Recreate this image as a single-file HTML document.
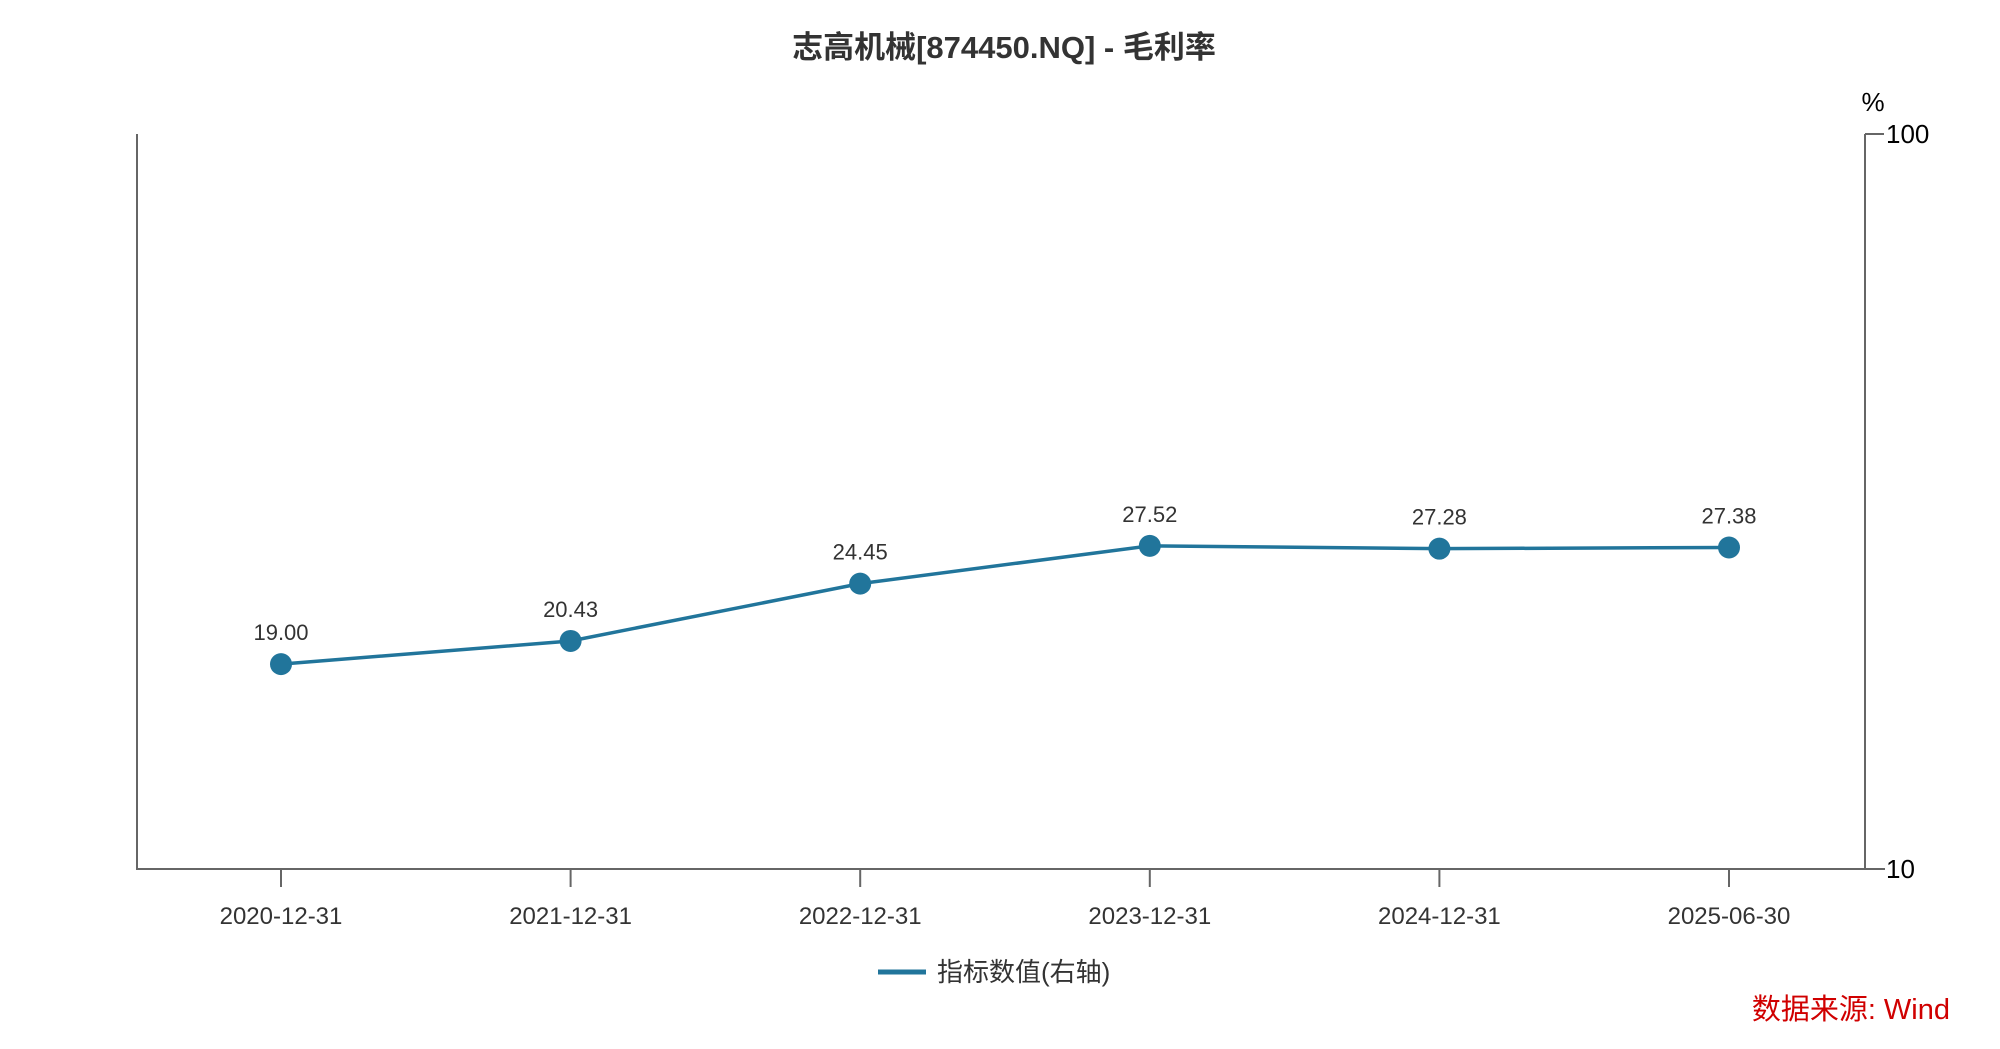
<!DOCTYPE html>
<html><head><meta charset="utf-8"><style>
body{margin:0;background:#fff;}
svg text{font-family:"Liberation Sans","Noto Sans CJK SC",sans-serif;}
</style></head><body>
<svg width="2000" height="1044">
<text x="1004" y="58" text-anchor="middle" font-size="31" font-weight="bold" fill="#333">志高机械[874450.NQ] - 毛利率</text>
<text x="1873" y="111" text-anchor="middle" font-size="26" fill="#000">%</text>
<g id="axes" stroke="#666" stroke-width="2" fill="none">
<line x1="137" y1="134" x2="137" y2="870"/>
<line x1="136" y1="869" x2="1885" y2="869"/>
<line x1="1865" y1="134" x2="1865" y2="870"/>
</g>
<g id="ticks"></g>
<g id="series"></g>
<g>
<line x1="878" y1="972" x2="926" y2="972" stroke="#21759b" stroke-width="5"/>
<text x="937" y="981" font-size="26" fill="#333">指标数值(右轴)</text>
</g>
<text x="1950" y="1019" text-anchor="end" font-size="29" fill="#d00000">数据来源: Wind</text>
</svg>
<script>
const categories=["2020-12-31","2021-12-31","2022-12-31","2023-12-31","2024-12-31","2025-06-30"];
const values=[19.00,20.43,24.45,27.52,27.28,27.38];
const yTicks=[10,100];
const NS="http://www.w3.org/2000/svg";
const x0=281,dx=289.6,yBot=869,yTop=134;
function xs(i){return x0+i*dx;}
function ys(v){return yBot-(Math.log10(v)-1)*(yBot-yTop);}
function mk(t,a,p){const e=document.createElementNS(NS,t);for(const k in a)e.setAttribute(k,a[k]);p.appendChild(e);return e;}
const tk=document.getElementById('ticks'),sr=document.getElementById('series');
categories.forEach((c,i)=>{
 const l=mk('line',{x1:xs(i),y1:869,x2:xs(i),y2:887,stroke:'#666','stroke-width':2},tk);
 
 
 const t=mk('text',{x:xs(i),y:924,'text-anchor':'middle','font-size':24,fill:'#333'},tk);
 t.textContent=c;
 
 
});
yTicks.forEach(v=>{
 const l=mk('line',{x1:1865,y1:ys(v),x2:1884,y2:ys(v),stroke:'#666','stroke-width':2},tk);
 
 
 const t=mk('text',{x:1886,y:ys(v)+9,'font-size':26,fill:'#000'},tk);
 t.textContent=v;
 
 
});
const pl=mk('polyline',{points:values.map((v,i)=>xs(i)+','+ys(v)).join(' '),fill:'none',stroke:'#21759b','stroke-width':3.5},sr);


values.forEach((v,i)=>{
 const c=mk('circle',{cx:xs(i),cy:ys(v),r:11,fill:'#21759b'},sr);
 
 
 const t=mk('text',{x:xs(i),y:ys(v)-24,'text-anchor':'middle','font-size':22,fill:'#333'},sr);
 t.textContent=v.toFixed(2);
 
 
});
</script>
</body></html>
